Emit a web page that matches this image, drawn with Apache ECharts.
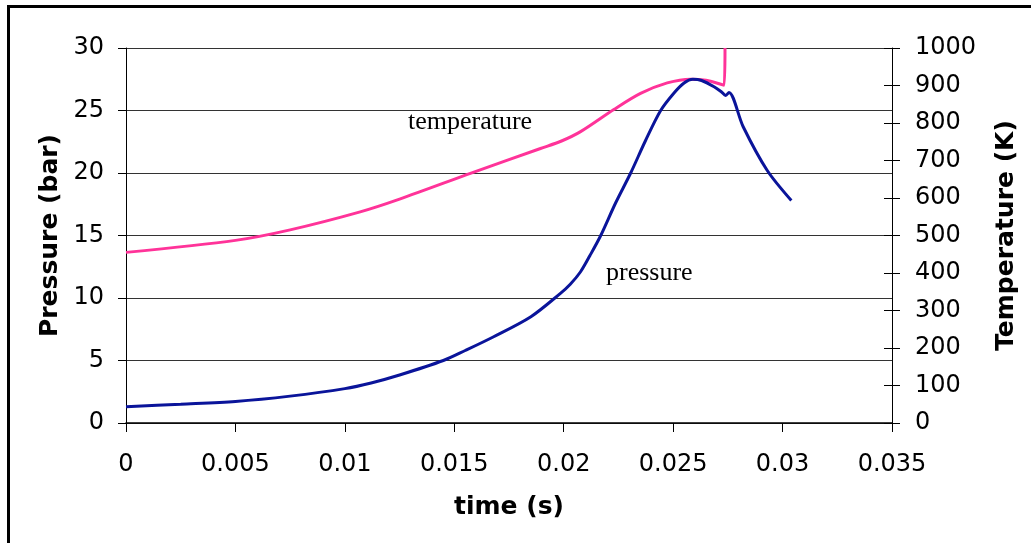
<!DOCTYPE html>
<html>
<head>
<meta charset="utf-8">
<script src="https://cdn.jsdelivr.net/npm/echarts@6/dist/echarts.min.js"></script>
<style>
html,body{margin:0;padding:0;background:#fff;}
#c{width:1031px;height:543px;}
</style>
</head>
<body>
<div id="c"></div>
<script>
// time (s) and pressure (bar)
var pressureTime = [0, 0.0025, 0.005, 0.0075, 0.010, 0.0112, 0.0125, 0.0145, 0.0155, 0.0168, 0.0185, 0.01985, 0.0203, 0.02077, 0.0212, 0.02168, 0.02237, 0.02306, 0.02374, 0.02443, 0.02504, 0.0255, 0.0259, 0.0263, 0.02687, 0.0272, 0.0274, 0.02755, 0.0282, 0.0293, 0.0304];
var pressure     = [1.30, 1.50, 1.72, 2.15, 2.75, 3.2, 3.84, 5.0, 5.8, 6.9, 8.5, 10.37, 11.1, 12.1, 13.4, 14.96, 17.6, 20.0, 22.6, 25.0, 26.4, 27.2, 27.5, 27.4, 26.9, 26.5, 26.2, 26.45, 23.7, 20.2, 17.8];
// time (s) and temperature (K)
var temperatureTime = [0, 0.005, 0.0075, 0.0107, 0.0125, 0.0158, 0.01894, 0.0199, 0.02077, 0.02229, 0.02351, 0.02473, 0.0258, 0.0265, 0.02733, 0.02737];
var temperature     = [455, 487, 515, 563, 597, 667, 732, 752, 777, 836, 879, 907, 917, 914, 901, 1000];

var FONT = 'DejaVu Sans';
var chart = echarts.init(document.getElementById('c'));

function zip(a, b) { return a.map(function (v, i) { return [v, b[i]]; }); }

chart.setOption({
  animation: false,
  backgroundColor: '#fff',
  grid: { left: 126, right: 139, top: 48, bottom: 120 },
  xAxis: {
    type: 'value', min: 0, max: 0.035, interval: 0.005,
    name: 'time (s)', nameLocation: 'middle', nameGap: 72,
    nameTextStyle: { fontFamily: FONT, fontSize: 25, fontWeight: 'bold', color: '#000' },
    axisLine: { lineStyle: { color: '#000', width: 1.5 } },
    axisTick: { length: 9, lineStyle: { color: '#000' } },
    axisLabel: { margin: 30, fontFamily: FONT, fontSize: 24, color: '#000',
      formatter: function (v) { return String(+v.toFixed(3)); } },
    splitLine: { show: false }
  },
  yAxis: [
    {
      type: 'value', min: 0, max: 30, interval: 5, position: 'left',
      name: 'Pressure (bar)', nameLocation: 'middle', nameGap: 62, nameRotate: 90,
      nameTextStyle: { fontFamily: FONT, fontSize: 25, fontWeight: 'bold', color: '#000' },
      axisLine: { show: true, lineStyle: { color: '#000', width: 1 } },
      axisTick: { show: true, length: 8, lineStyle: { color: '#000' } },
      axisLabel: { margin: 22, fontFamily: FONT, fontSize: 24, color: '#000' },
      splitLine: { show: true, lineStyle: { color: '#333', width: 1 } }
    },
    {
      type: 'value', min: 0, max: 1000, interval: 100, position: 'right',
      name: 'Temperature (K)', nameLocation: 'middle', nameGap: 102, nameRotate: 90,
      nameTextStyle: { fontFamily: FONT, fontSize: 25, fontWeight: 'bold', color: '#000' },
      axisLine: { show: true, lineStyle: { color: '#000', width: 1 } },
      axisTick: { show: true, length: 8, lineStyle: { color: '#000' } },
      axisLabel: { margin: 23, fontFamily: FONT, fontSize: 24, color: '#000',
        formatter: function (v) { return String(v); } },
      splitLine: { show: false }
    },
    {
      type: 'value', min: 0, max: 1000, interval: 100, position: 'right',
      axisLine: { show: false },
      axisTick: { show: true, inside: true, length: 8, lineStyle: { color: '#000' } },
      axisLabel: { show: false },
      splitLine: { show: false }
    }
  ],
  series: [
    {
      name: 'temperature', type: 'line', yAxisIndex: 1,
      data: zip(temperatureTime, temperature),
      smooth: 0.3, symbol: 'none', clip: true,
      lineStyle: { color: '#ff3399', width: 3 }
    },
    {
      name: 'pressure', type: 'line', yAxisIndex: 0,
      data: zip(pressureTime, pressure),
      smooth: 0.3, symbol: 'none', clip: true,
      lineStyle: { color: '#0a149a', width: 3 }
    }
  ],
  graphic: [
    { type: 'rect', shape: { x: 8.5, y: 6.5, width: 1040, height: 560 },
      style: { fill: 'none', stroke: '#000', lineWidth: 3 }, silent: true, z: 100 },
    { type: 'text', left: 408, top: 109,
      style: { text: 'temperature', font: '26px "Liberation Serif"', fill: '#000' } },
    { type: 'text', left: 606, top: 260,
      style: { text: 'pressure', font: '26px "Liberation Serif"', fill: '#000' } }
  ]
});
</script>
</body>
</html>
